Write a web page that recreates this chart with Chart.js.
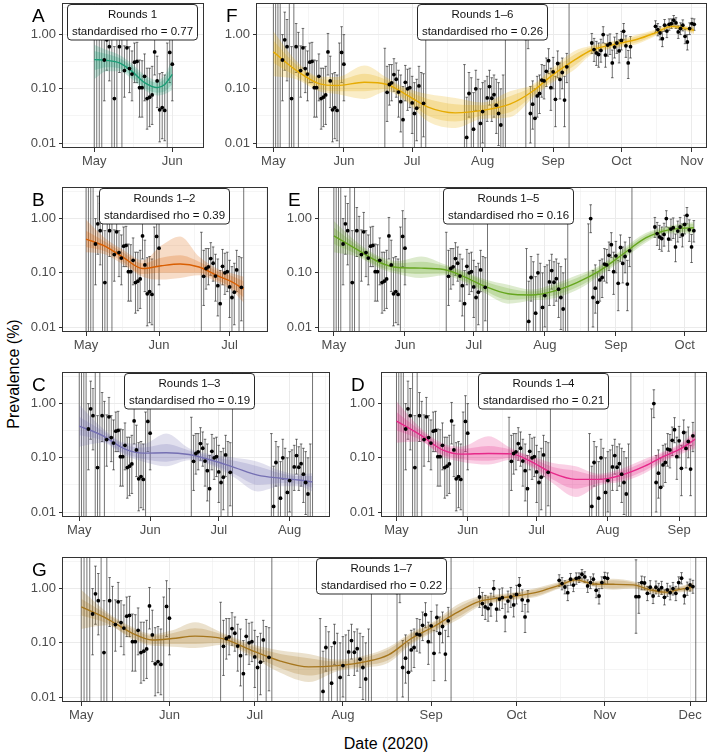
<!DOCTYPE html>
<html>
<head>
<meta charset="utf-8">
<script src="https://cdn.jsdelivr.net/npm/chart.js@4.4.1/dist/chart.umd.min.js"></script>
<style>
  html, body { margin: 0; padding: 0; background: #fff; }
  #page { position: relative; width: 712px; height: 756px; overflow: hidden;
          font-family: "Liberation Sans", Arial, sans-serif; color: #000; }
  #page canvas { position: absolute; }
  .ytitle { position: absolute; left: 14px; top: 374px; font-size: 16px; white-space: nowrap;
            transform: translate(-50%, -50%) rotate(-90deg); }
  .xtitle { position: absolute; left: 386px; top: 744px; font-size: 16px; white-space: nowrap;
            transform: translate(-50%, -50%); }
</style>
</head>
<body>
<div id="page">
  <div class="ytitle">Prevalence (%)</div>
  <div class="xtitle">Date (2020)</div>
</div>
<script>
// x is days since 1 May 2020
const monthDays = [0, 31, 61, 92, 123, 153, 184, 214];
const monthNames = ['May', 'Jun', 'Jul', 'Aug', 'Sep', 'Oct', 'Nov', 'Dec'];
const yTicks = [0.01, 0.1, 1];
const yTickLabels = ['0.01', '0.10', '1.00'];
const yMinor = [0.0316, 0.316, 3.162];

// daily prevalence per round: [day, prevalence %, lower 95%, upper 95%]
// prevalence null = no positives that day (only the interval is drawn)
const round1 = [
  [0, null, 0, 9], [1, null, 0, 9], [2, null, 0, 9], [3, null, 0, 6],
  [4, 0.34, 0.06, 1.0], [5, 0.80, 0.22, 2.6], [6, 0.60, 0.14, 1.9], [7, null, 0, 5],
  [8, 0.066, 0, 0.6], [9, null, 0, 4.5], [10, 0.60, 0.20, 1.6], [11, null, 0, 1.1],
  [12, 0.217, 0.07, 0.62], [13, 0.57, 0.24, 1.3], [14, 0.236, 0.085, 0.60], [15, 0.187, 0.06, 0.50],
  [16, 0.31, 0.13, 0.70], [17, 0.32, 0.13, 0.72], [18, 0.105, 0.03, 0.34], [19, 0.105, 0.03, 0.33],
  [20, 0.17, 0.06, 0.44], [21, 0.066, 0.018, 0.24], [22, 0.07, 0.02, 0.24], [23, 0.077, 0.022, 0.26],
  [24, 0.48, 0.18, 1.05], [25, 0.14, 0.045, 0.40], [26, 0.041, 0.0105, 0.19], [27, 0.045, 0.012, 0.20],
  [28, 0.040, 0.011, 0.18], [29, null, 0, 0.7], [30, 0.47, 0.13, 1.4], [31, 0.285, 0.06, 1.0]
];
const round2 = [
  [49, null, 0, 0.56], [50, 0.086, 0.025, 0.26], [51, 0.12, 0.05, 0.28], [52, 0.129, 0.06, 0.28],
  [53, 0.183, 0.09, 0.36], [54, 0.15, 0.07, 0.30], [55, 0.087, 0.03, 0.22], [56, 0.058, 0.016, 0.18],
  [57, 0.027, 0.006, 0.11], [58, 0.132, 0.06, 0.27], [59, 0.10, 0.04, 0.23], [60, 0.105, 0.045, 0.24],
  [61, 0.055, 0.015, 0.17], [62, 0.035, 0.008, 0.13], [63, 0.044, 0.011, 0.15], [64, 0.113, 0.045, 0.26],
  [65, null, 0, 0.2], [66, 0.054, 0.013, 0.19], [67, null, 0, 9]
];
const round3 = [
  [84, null, 0, 0.28], [85, 0.0127, 0.002, 0.07], [86, 0.082, 0.03, 0.20], [87, null, 0, 0.16],
  [88, 0.018, 0.004, 0.085], [89, 0.10, 0.04, 0.22], [90, null, 0, 0.15], [91, 0.023, 0.005, 0.10],
  [92, 0.038, 0.01, 0.13], [93, null, 0, 0.14], [94, 0.068, 0.025, 0.17], [95, 0.11, 0.05, 0.22],
  [96, 0.067, 0.025, 0.16], [97, 0.078, 0.03, 0.18], [98, 0.05, 0.015, 0.15], [99, 0.035, 0.009, 0.13],
  [100, 0.0215, 0.005, 0.10], [101, null, 0, 0.18], [102, null, 0, 9]
];
const round4 = [
  [111, null, 0, 0.8], [112, 1.0, 0.55, 1.8], [113, 0.035, 0.01, 0.11], [114, 0.052, 0.018, 0.14],
  [115, 0.0286, 0.007, 0.10], [116, 0.074, 0.03, 0.17], [117, 0.082, 0.035, 0.18], [118, 0.145, 0.07, 0.28],
  [119, 0.14, 0.065, 0.27], [120, 0.21, 0.11, 0.37], [121, 0.33, 0.19, 0.55], [122, 0.105, 0.04, 0.24],
  [123, 0.206, 0.10, 0.38], [124, 0.064, 0.02, 0.17], [125, 0.293, 0.16, 0.50], [126, 0.149, 0.065, 0.30],
  [127, 0.20, 0.10, 0.37], [128, 0.062, 0.02, 0.17], [129, 0.254, 0.13, 0.45], [130, null, 0, 9]
];
const round5 = [
  [140, 0.70, 0.45, 1.05], [141, 0.53, 0.32, 0.85], [142, 0.46, 0.27, 0.75], [143, 0.43, 0.25, 0.70],
  [144, 0.51, 0.31, 0.82], [145, 1.0, 0.70, 1.4], [146, 0.42, 0.25, 0.68], [147, 0.64, 0.40, 0.98],
  [148, 0.68, 0.43, 1.03], [149, 0.30, 0.16, 0.52], [150, 0.59, 0.37, 0.90], [151, 0.70, 0.45, 1.05],
  [152, 0.50, 0.30, 0.80], [153, 0.78, 0.52, 1.15], [154, 1.15, 0.80, 1.6], [155, 0.62, 0.38, 0.95],
  [156, 0.30, 0.155, 0.51], [157, 0.60, 0.37, 0.92]
];
const round6 = [
  [168, 1.42, 1.10, 1.80], [169, 1.24, 0.95, 1.60], [170, 1.07, 0.80, 1.40], [171, 0.84, 0.60, 1.15],
  [172, 1.49, 1.15, 1.90], [173, 1.16, 0.88, 1.50], [174, 1.55, 1.20, 1.95], [175, 1.60, 1.30, 1.95],
  [176, 1.84, 1.50, 2.25], [177, 1.64, 1.30, 2.05], [178, 1.12, 0.85, 1.45], [179, 1.29, 1.00, 1.65],
  [180, 1.49, 1.17, 1.87], [181, 0.93, 0.68, 1.25], [182, 0.73, 0.52, 1.00], [183, 1.29, 1.00, 1.65],
  [184, 1.60, 1.25, 2.00], [185, 1.55, 1.20, 1.95]
];
const round7 = [
  [195, 0.71, 0.15, 3.4], [196, 0.71, 0.35, 1.3], [197, 1.29, 0.95, 1.70], [198, 1.27, 0.95, 1.65],
  [199, 0.82, 0.60, 1.10], [200, 1.06, 0.80, 1.40], [201, 0.73, 0.53, 0.98], [202, 1.06, 0.80, 1.38],
  [203, 0.95, 0.72, 1.25], [204, 1.04, 0.78, 1.36], [205, 0.69, 0.50, 0.95], [206, 0.95, 0.72, 1.25],
  [207, 0.84, 0.62, 1.12], [208, 1.00, 0.76, 1.30], [209, 0.82, 0.60, 1.10], [210, 1.29, 1.00, 1.65],
  [211, 1.56, 1.22, 1.97], [212, 0.73, 0.52, 1.00], [213, 1.00, 0.75, 1.32], [214, 1.17, 0.90, 1.50],
  [215, 1.09, 0.82, 1.42], [216, null, 0, 9]
];
const rounds = [round1, round2, round3, round4, round5, round6, round7];

// smoothed fits: [day, median, inner lo, inner hi, outer lo, outer hi]
const fitA = [
  [0, 0.345, 0.22, 0.50, 0.15, 0.65], [5, 0.335, 0.25, 0.44, 0.21, 0.52], [10, 0.30, 0.24, 0.37, 0.21, 0.42],
  [15, 0.21, 0.17, 0.26, 0.15, 0.29], [20, 0.13, 0.105, 0.16, 0.095, 0.18], [25, 0.105, 0.085, 0.13, 0.075, 0.145],
  [28, 0.12, 0.09, 0.155, 0.08, 0.18], [31, 0.185, 0.12, 0.28, 0.095, 0.35]
];
const fitB = [
  [0, 0.42, 0.30, 0.60, 0.24, 0.95], [8, 0.31, 0.25, 0.38, 0.22, 0.44], [16, 0.19, 0.155, 0.235, 0.14, 0.26],
  [24, 0.12, 0.095, 0.15, 0.085, 0.17], [32, 0.135, 0.10, 0.19, 0.075, 0.32], [40, 0.145, 0.10, 0.21, 0.08, 0.47],
  [48, 0.128, 0.10, 0.16, 0.09, 0.20], [56, 0.088, 0.072, 0.107, 0.066, 0.118], [62, 0.068, 0.053, 0.087, 0.047, 0.098],
  [67, 0.05, 0.035, 0.07, 0.028, 0.085]
];
const fitC = [
  [0, 0.385, 0.26, 0.57, 0.16, 0.95], [10, 0.26, 0.21, 0.32, 0.19, 0.36], [20, 0.145, 0.12, 0.175, 0.11, 0.19],
  [28, 0.122, 0.095, 0.155, 0.085, 0.18], [38, 0.124, 0.085, 0.18, 0.07, 0.28], [48, 0.115, 0.097, 0.137, 0.09, 0.15],
  [58, 0.09, 0.077, 0.106, 0.072, 0.115], [68, 0.066, 0.05, 0.088, 0.043, 0.10], [78, 0.048, 0.032, 0.07, 0.024, 0.085],
  [88, 0.042, 0.034, 0.052, 0.03, 0.058], [96, 0.039, 0.033, 0.046, 0.03, 0.05], [102, 0.036, 0.028, 0.046, 0.024, 0.052]
];
const fitD = [
  [0, 0.476, 0.32, 0.70, 0.19, 1.1], [10, 0.27, 0.22, 0.33, 0.20, 0.37], [20, 0.14, 0.115, 0.17, 0.105, 0.185],
  [28, 0.117, 0.095, 0.145, 0.085, 0.16], [40, 0.12, 0.088, 0.165, 0.075, 0.25], [50, 0.118, 0.10, 0.14, 0.092, 0.15],
  [58, 0.088, 0.075, 0.103, 0.07, 0.11], [68, 0.052, 0.04, 0.068, 0.034, 0.08], [78, 0.04, 0.027, 0.058, 0.019, 0.07],
  [88, 0.04, 0.034, 0.047, 0.031, 0.051], [98, 0.048, 0.04, 0.057, 0.036, 0.063], [108, 0.07, 0.058, 0.085, 0.052, 0.095],
  [116, 0.105, 0.09, 0.122, 0.084, 0.13], [124, 0.15, 0.128, 0.176, 0.118, 0.19], [130, 0.22, 0.17, 0.28, 0.15, 0.32]
];
const fitE = [
  [0, 0.48, 0.34, 0.68, 0.24, 0.90], [10, 0.27, 0.22, 0.33, 0.20, 0.37], [20, 0.155, 0.13, 0.185, 0.12, 0.20],
  [28, 0.125, 0.105, 0.15, 0.095, 0.165], [38, 0.122, 0.095, 0.16, 0.08, 0.20], [48, 0.115, 0.097, 0.135, 0.09, 0.145],
  [56, 0.088, 0.075, 0.103, 0.07, 0.11], [66, 0.056, 0.046, 0.069, 0.042, 0.075], [76, 0.041, 0.032, 0.052, 0.027, 0.06],
  [86, 0.039, 0.034, 0.045, 0.031, 0.049], [96, 0.046, 0.038, 0.056, 0.034, 0.062], [106, 0.066, 0.054, 0.08, 0.048, 0.09],
  [116, 0.11, 0.095, 0.128, 0.088, 0.137], [126, 0.22, 0.19, 0.255, 0.175, 0.275], [136, 0.44, 0.39, 0.50, 0.36, 0.54],
  [146, 0.62, 0.56, 0.69, 0.53, 0.73], [157, 0.68, 0.58, 0.80, 0.53, 0.87]
];
const fitF = [
  [0, 0.48, 0.30, 0.78, 0.17, 1.15], [10, 0.22, 0.17, 0.28, 0.15, 0.33], [20, 0.125, 0.10, 0.155, 0.09, 0.17],
  [28, 0.115, 0.09, 0.145, 0.08, 0.165], [40, 0.132, 0.09, 0.19, 0.065, 0.27], [50, 0.12, 0.10, 0.145, 0.09, 0.16],
  [58, 0.08, 0.065, 0.095, 0.06, 0.105], [68, 0.046, 0.032, 0.065, 0.025, 0.08], [80, 0.036, 0.025, 0.052, 0.019, 0.068],
  [92, 0.04, 0.032, 0.05, 0.028, 0.056], [104, 0.052, 0.037, 0.073, 0.03, 0.09], [114, 0.09, 0.075, 0.11, 0.068, 0.12],
  [122, 0.17, 0.14, 0.205, 0.125, 0.23], [132, 0.33, 0.26, 0.42, 0.22, 0.49], [140, 0.52, 0.46, 0.59, 0.43, 0.63],
  [150, 0.66, 0.59, 0.73, 0.56, 0.77], [160, 0.82, 0.72, 0.93, 0.67, 1.0], [168, 1.08, 0.98, 1.18, 0.94, 1.24],
  [175, 1.42, 1.32, 1.52, 1.28, 1.58], [180, 1.33, 1.24, 1.43, 1.2, 1.48], [185, 1.2, 1.08, 1.34, 1.02, 1.4]
];
const fitG = [
  [0, 0.46, 0.32, 0.65, 0.18, 0.95], [9, 0.28, 0.23, 0.34, 0.21, 0.37], [18, 0.15, 0.125, 0.18, 0.115, 0.195],
  [25, 0.113, 0.095, 0.135, 0.088, 0.145], [32, 0.12, 0.095, 0.15, 0.085, 0.17], [40, 0.133, 0.095, 0.185, 0.08, 0.24],
  [50, 0.118, 0.10, 0.14, 0.092, 0.15], [60, 0.072, 0.06, 0.086, 0.055, 0.094], [70, 0.046, 0.034, 0.062, 0.028, 0.072],
  [80, 0.036, 0.025, 0.052, 0.019, 0.062], [90, 0.038, 0.032, 0.045, 0.03, 0.049], [100, 0.045, 0.038, 0.054, 0.035, 0.059],
  [108, 0.06, 0.048, 0.075, 0.043, 0.083], [116, 0.12, 0.10, 0.145, 0.093, 0.155], [124, 0.2, 0.17, 0.235, 0.16, 0.25],
  [132, 0.36, 0.29, 0.44, 0.26, 0.5], [140, 0.58, 0.50, 0.67, 0.47, 0.72], [150, 0.70, 0.63, 0.78, 0.60, 0.82],
  [160, 0.85, 0.74, 0.97, 0.70, 1.03], [168, 1.15, 1.05, 1.26, 1.0, 1.32], [174, 1.45, 1.35, 1.56, 1.3, 1.62],
  [180, 1.22, 1.13, 1.32, 1.08, 1.38], [187, 1.2, 1.02, 1.42, 0.95, 1.52], [194, 1.17, 1.05, 1.3, 1.0, 1.36],
  [200, 0.95, 0.87, 1.04, 0.84, 1.08], [205, 0.86, 0.79, 0.94, 0.76, 0.97], [210, 0.96, 0.88, 1.05, 0.85, 1.09],
  [215, 1.07, 0.93, 1.23, 0.88, 1.3]
];

// panel layout (page pixels for the plotting box) and per-panel settings
const PANEL_H = 145, Y_AXIS_W = 45, X_AXIS_H = 28, PAD_T = 2, PAD_R = 4;
const Y_MIN = 0.00809, Y_MAX = 3.83;
const panels = [
  { tag: 'A', n: 1, rho: '0.77', color: '#1B9E77', fit: fitA, labelDay: 15,    xMin: -12.4, xMax: 43.2,  left: 63,  right: 203, top: 3 },
  { tag: 'F', n: 6, rho: '0.26', color: '#E6AB02', fit: fitF, labelDay: 91.7,  xMin: -7.2,  xMax: 190.2, left: 257, right: 706, top: 3 },
  { tag: 'B', n: 2, rho: '0.39', color: '#D95F02', fit: fitB, labelDay: 33.2,  xMin: -9.8,  xMax: 76.9,  left: 63,  right: 267, top: 187 },
  { tag: 'E', n: 5, rho: '0.16', color: '#66A61E', fit: fitE, labelDay: 76.1,  xMin: -6.5,  xMax: 162.3, left: 319, right: 706, top: 187 },
  { tag: 'C', n: 3, rho: '0.19', color: '#7570B3', fit: fitC, labelDay: 48,    xMin: -7.1,  xMax: 109.2, left: 63,  right: 329, top: 372 },
  { tag: 'D', n: 4, rho: '0.21', color: '#E7298A', fit: fitD, labelDay: 63.8,  xMin: -6.3,  xMax: 134.7, left: 382, right: 706, top: 372 },
  { tag: 'G', n: 7, rho: '0.22', color: '#A6761D', fit: fitG, labelDay: 105.3, xMin: -6.4,  xMax: 219.6, left: 63,  right: 706, top: 557 }
];

const FONT = '"Liberation Sans", Arial, sans-serif';
Chart.defaults.font.family = FONT;

function withAlpha(hex, a) {
  const n = parseInt(hex.slice(1), 16);
  return `rgba(${n >> 16},${(n >> 8) & 255},${n & 255},${a})`;
}

function xTicksFor(min, max) {
  const out = [];
  monthDays.forEach((d, i) => {
    if (d >= min && d <= max) out.push({ value: d });
    if (i + 1 < monthDays.length) {
      const mid = (d + monthDays[i + 1]) / 2;
      if (mid >= min && mid <= max) out.push({ value: mid });
    }
  });
  return out.sort((a, b) => a.value - b.value);
}

function drawErrorBars(chart, rows) {
  const { ctx, chartArea: a, scales: { x, y } } = chart;
  const cap = 1.3;
  ctx.save();
  ctx.beginPath();
  ctx.rect(a.left, a.top, a.right - a.left, a.bottom - a.top);
  ctx.clip();
  ctx.strokeStyle = 'rgba(20,20,20,0.85)';
  ctx.lineWidth = 0.7;
  ctx.beginPath();
  rows.forEach(([d, , lo, hi]) => {
    const px = x.getPixelForValue(d);
    const top = y.getPixelForValue(hi);
    const bot = lo > 0 ? y.getPixelForValue(lo) : a.bottom - 0.5;
    ctx.moveTo(px, top); ctx.lineTo(px, bot);
    ctx.moveTo(px - cap, top); ctx.lineTo(px + cap, top);
    ctx.moveTo(px - cap, bot); ctx.lineTo(px + cap, bot);
  });
  ctx.stroke();
  ctx.restore();
}

function drawFrame(chart, p) {
  const { ctx, chartArea: a, scales: { x } } = chart;
  ctx.save();
  // panel border
  ctx.strokeStyle = '#333';
  ctx.lineWidth = 1;
  ctx.strokeRect(Math.round(a.left) - 0.5, Math.round(a.top) + 0.5,
                 Math.round(a.right - a.left) + 1, Math.round(a.bottom - a.top) - 1);
  // label box
  const cx = x.getPixelForValue(p.labelDay);
  const w = 130, h = 35.5, r = 3.5;
  const bx = Math.round(cx - w / 2) + 0.5, by = Math.round(a.top) + 1.5;
  ctx.beginPath();
  ctx.roundRect(bx, by, w, h, r);
  ctx.fillStyle = '#fff';
  ctx.fill();
  ctx.strokeStyle = '#111';
  ctx.lineWidth = 0.9;
  ctx.stroke();
  ctx.fillStyle = '#111';
  ctx.font = '11.5px ' + FONT;
  ctx.textAlign = 'center';
  ctx.textBaseline = 'middle';
  const range = p.n === 1 ? 'Rounds 1' : 'Rounds 1\u2013' + p.n;
  ctx.fillText(range, bx + w / 2, by + 10.5);
  ctx.fillText('standardised rho = ' + p.rho, bx + w / 2, by + 27);
  // panel tag
  ctx.fillStyle = '#000';
  ctx.font = '19px ' + FONT;
  ctx.textAlign = 'left';
  ctx.textBaseline = 'alphabetic';
  ctx.fillText(p.tag, a.left - 31, a.top + 19);
  ctx.restore();
}

function makePanel(p) {
  const canvas = document.createElement('canvas');
  const w = p.right - p.left + Y_AXIS_W + PAD_R;
  const h = PAD_T + PANEL_H + X_AXIS_H;
  canvas.width = w; canvas.height = h;
  canvas.style.width = w + 'px'; canvas.style.height = h + 'px';
  canvas.style.left = (p.left - Y_AXIS_W) + 'px';
  canvas.style.top = (p.top - PAD_T) + 'px';
  document.getElementById('page').appendChild(canvas);

  const rows = rounds.slice(0, p.n).flat();
  const pts = rows.filter(r => r[1] != null).map(r => ({ x: r[0], y: r[1] }));
  const col = k => p.fit.map(f => ({ x: f[0], y: f[k] }));
  const band = { type: 'line', pointRadius: 0, borderWidth: 0, cubicInterpolationMode: 'monotone' };

  const isMajorX = v => monthDays.includes(v);
  const isMajorY = v => yTicks.includes(v);

  new Chart(canvas, {
    type: 'line',
    data: {
      datasets: [
        { type: 'scatter', data: pts, pointRadius: 1.9, pointBackgroundColor: '#000',
          pointBorderWidth: 0, order: 0 },
        { type: 'line', data: col(1), borderColor: p.color, borderWidth: 1.4, pointRadius: 0,
          cubicInterpolationMode: 'monotone', fill: false, order: 1 },
        { ...band, data: col(4), fill: false, order: 3 },
        { ...band, data: col(5), fill: '-1', backgroundColor: withAlpha(p.color, 0.22), order: 3 },
        { ...band, data: col(2), fill: false, order: 2 },
        { ...band, data: col(3), fill: '-1', backgroundColor: withAlpha(p.color, 0.24), order: 2 }
      ]
    },
    options: {
      responsive: false,
      animation: false,
      devicePixelRatio: 1,
      events: [],
      layout: { autoPadding: false, padding: { top: PAD_T, right: PAD_R, left: 0, bottom: 0 } },
      plugins: { legend: { display: false }, tooltip: { enabled: false } },
      scales: {
        x: {
          type: 'linear', min: p.xMin, max: p.xMax,
          afterBuildTicks: s => { s.ticks = xTicksFor(p.xMin, p.xMax); },
          afterFit: s => { s.height = X_AXIS_H; s.paddingLeft = 0; s.paddingRight = 0; },
          border: { display: false },
          grid: {
            color: '#ebebeb',
            lineWidth: c => (c.tick && isMajorX(c.tick.value) ? 1 : 0.5),
            tickLength: 4, tickWidth: 1,
            tickColor: c => (c.tick && isMajorX(c.tick.value) ? '#333' : 'rgba(0,0,0,0)')
          },
          ticks: {
            autoSkip: false, maxRotation: 0, padding: 2, color: '#4d4d4d', font: { size: 13 },
            callback: v => { const i = monthDays.indexOf(v); return i >= 0 ? monthNames[i] : ''; }
          }
        },
        y: {
          type: 'logarithmic', min: Y_MIN, max: Y_MAX,
          afterBuildTicks: s => {
            s.ticks = yTicks.concat(yMinor).sort((a, b) => a - b).map(v => ({ value: v }));
          },
          afterFit: s => { s.width = Y_AXIS_W; s.paddingTop = 0; s.paddingBottom = 0; },
          border: { display: false },
          grid: {
            color: '#ebebeb',
            lineWidth: c => (c.tick && isMajorY(c.tick.value) ? 1 : 0.5),
            tickLength: 4, tickWidth: 1,
            tickColor: c => (c.tick && isMajorY(c.tick.value) ? '#333' : 'rgba(0,0,0,0)')
          },
          ticks: {
            autoSkip: false, padding: 3, color: '#4d4d4d', font: { size: 13 },
            callback: v => { const i = yTicks.indexOf(v); return i >= 0 ? yTickLabels[i] : ''; }
          }
        }
      }
    },
    plugins: [{
      id: 'panelDecor',
      beforeDatasetsDraw: chart => drawErrorBars(chart, rows),
      afterDraw: chart => drawFrame(chart, p)
    }]
  });
}

panels.forEach(makePanel);
</script>
</body>
</html>
